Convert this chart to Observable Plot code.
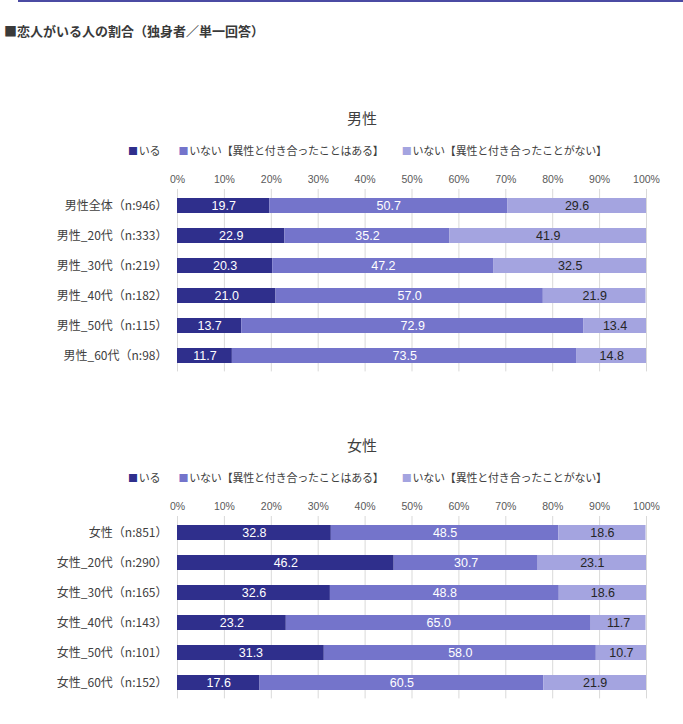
<!DOCTYPE html>
<html>
<head>
<meta charset="utf-8">
<script src="https://cdn.jsdelivr.net/npm/d3@7"></script>
<script src="https://cdn.jsdelivr.net/npm/@observablehq/plot@0.6"></script>
<style>
  html, body { margin: 0; padding: 0; background: #fff; overflow: hidden; }
  #page { position: relative; width: 683px; height: 720px; overflow: hidden;
          font-family: "Noto Sans CJK JP", "Noto Sans", sans-serif; color: #404040; }
  .topline { position: absolute; left: 18px; top: 0; width: 700px; height: 2px; background: #4b4ba3; }
  .title { position: absolute; left: 4px; top: 22px; font-size: 13px; font-weight: bold; line-height: 18px; color: #3a3a3a; }
  .ctitle { position: absolute; left: 262px; width: 200px; text-align: center; font-size: 15px; line-height: 20px; color: #404040; }
  .legend { position: absolute; left: 128px; font-size: 11px; line-height: 16px; color: #404040; white-space: nowrap; display: flex; letter-spacing: -0.2px; }
  .legend span.item { margin-right: 18px; }
  .legend span.sw { font-size: 10px; margin-right: 1px; }
  .plotwrap { position: absolute; left: 0; }
</style>
</head>
<body>
<div id="page">
  <div class="topline"></div>
  <div class="title">■恋人がいる人の割合（独身者／単一回答）</div>
</div>
<script>
// ---- data ----
const categories = ["いる", "いない【異性と付き合ったことはある】", "いない【異性と付き合ったことがない】"];
const colors = ["#2f2f8c", "#7474cb", "#a4a4e0"];
const labelColors = ["#ffffff", "#ffffff", "#262626"];
const xTicks = [0, 10, 20, 30, 40, 50, 60, 70, 80, 90, 100];

const maleTitle = "男性";
const maleGroups = ["男性全体（n:946）", "男性_20代（n:333）", "男性_30代（n:219）", "男性_40代（n:182）", "男性_50代（n:115）", "男性_60代（n:98）"];
const maleIru = [19.7, 22.9, 20.3, 21.0, 13.7, 11.7];
const maleAru = [50.7, 35.2, 47.2, 57.0, 72.9, 73.5];
const maleNai = [29.6, 41.9, 32.5, 21.9, 13.4, 14.8];

const femaleTitle = "女性";
const femaleGroups = ["女性（n:851）", "女性_20代（n:290）", "女性_30代（n:165）", "女性_40代（n:143）", "女性_50代（n:101）", "女性_60代（n:152）"];
const femaleIru = [32.8, 46.2, 32.6, 23.2, 31.3, 17.6];
const femaleAru = [48.5, 30.7, 48.8, 65.0, 58.0, 60.5];
const femaleNai = [18.6, 23.1, 18.6, 11.7, 10.7, 21.9];

// ---- build ----
const page = document.getElementById("page");

function makeRows(groups, series) {
  const rows = [];
  groups.forEach((g, i) => {
    series.forEach((s, k) => rows.push({group: g, cat: categories[k], k, value: s[i]}));
  });
  return rows;
}

function addChart(title, groups, series, offset) {
  const t = document.createElement("div");
  t.className = "ctitle";
  t.style.top = (108 + offset) + "px";
  t.textContent = title;
  page.appendChild(t);

  const lg = document.createElement("div");
  lg.className = "legend";
  lg.style.top = (142 + offset) + "px";
  categories.forEach((c, k) => {
    const it = document.createElement("span");
    it.className = "item";
    const sw = document.createElement("span");
    sw.className = "sw";
    sw.style.color = colors[k];
    sw.textContent = "■";
    it.appendChild(sw);
    it.appendChild(document.createTextNode(c));
    lg.appendChild(it);
  });
  page.appendChild(lg);

  const rows = makeRows(groups, series);
  const chart = Plot.plot({
    width: 683,
    height: 216,
    marginTop: 29,
    marginBottom: 4.6,
    marginLeft: 177,
    marginRight: 37,
    style: {fontFamily: "'Noto Sans CJK JP', sans-serif", background: "transparent", color: "#404040"},
    x: {domain: [0, 100]},
    y: {domain: groups, paddingInner: 0.5, paddingOuter: 0.25},
    color: {domain: categories, range: colors},
    marks: [
      Plot.gridX(xTicks, {stroke: "#d9d9d9", strokeOpacity: 1, strokeWidth: 1}),
      Plot.axisX(xTicks, {anchor: "top", tickSize: 0, tickPadding: 7, tickFormat: d => d + "%",
        fontSize: 10.5, fill: "#595959", fontFamily: "'Liberation Sans', Arial, sans-serif", label: null}),
      Plot.axisY({tickSize: 0, tickPadding: 10, fontSize: 12, fill: "#404040", label: null}),
      Plot.barX(rows, {x: "value", y: "group", fill: "cat", order: categories}),
      Plot.text(rows, Plot.stackX({x: "value", y: "group", z: "cat", order: categories,
        text: d => d.value.toFixed(1), fill: d => labelColors[d.k],
        fontSize: 12.5, fontFamily: "'Liberation Sans', Arial, sans-serif"}))
    ]
  });
  const w = document.createElement("div");
  w.className = "plotwrap";
  w.style.top = (160 + offset) + "px";
  w.appendChild(chart);
  page.appendChild(w);
}

addChart(maleTitle, maleGroups, [maleIru, maleAru, maleNai], 0);
addChart(femaleTitle, femaleGroups, [femaleIru, femaleAru, femaleNai], 327);
</script>
</body>
</html>
